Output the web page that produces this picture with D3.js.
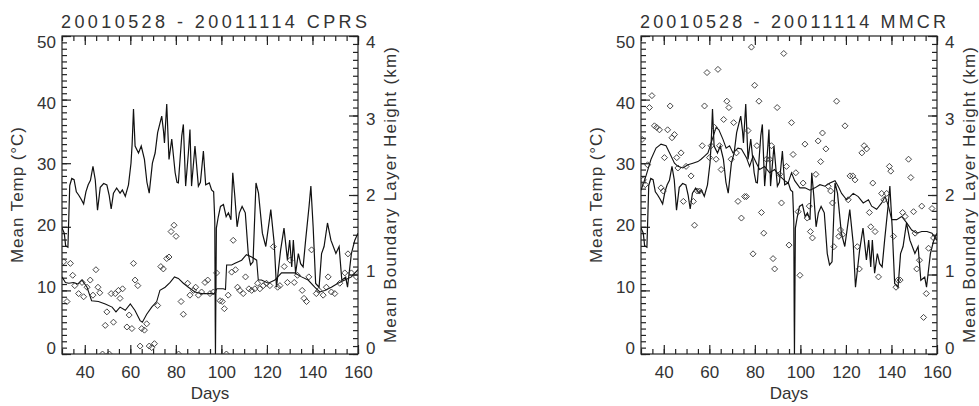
<!DOCTYPE html>
<html>
<head>
<meta charset="utf-8">
<script src="https://cdn.jsdelivr.net/npm/d3@7"></script>
<style>
body { margin: 0; background: #fff; }
text { font-family: "Liberation Sans", Arial, sans-serif; fill: #333; }
</style>
</head>
<body>
<div id="chart"></div>
<script>
// mean temperature (same series on both panels), day of year vs degC
const tempDays = [30.0, 31.0, 31.6, 32.6, 33.4, 34.3, 35.3, 36.3, 37.3, 38.3, 39.5, 40.5, 41.5, 42.5, 43.6, 44.6, 45.6, 46.8, 48.3, 49.7,
    50.7, 51.6, 52.6, 54.0, 55.5, 56.5, 57.8, 59.2, 60.3, 60.8, 61.4, 62.1, 63.6, 64.8, 66.2, 67.3, 68.3, 69.7, 70.9, 72.0,
    73.8, 74.6, 75.0, 76.0, 77.0, 78.2, 79.7, 80.5, 81.1, 82.6, 83.3, 84.3, 85.5, 86.2, 86.9, 88.4, 89.9, 90.8, 92.1, 93.1,
    94.7, 95.7, 96.6, 97.1, 97.3, 97.4, 97.8, 98.6, 99.6, 100.9, 102.1, 103.1, 104.2, 105.0, 105.9, 106.9, 107.9, 109.1, 110.5, 111.8,
    112.8, 113.9, 115.2, 116.3, 118.0, 119.5, 121.7, 123.2, 124.2, 126.0, 127.5, 129.0, 130.0, 130.9, 131.6, 132.6, 133.8, 134.8, 135.9, 137.0,
    138.5, 139.3, 140.3, 141.4, 142.9, 144.0, 145.1, 146.6, 148.1, 150.3, 151.7, 152.9, 154.6, 155.4, 157.1, 158.6, 160.0]
const tempVals = [19.8, 19.0, 17.0, 16.8, 26.5, 27.6, 27.4, 25.5, 25.0, 24.4, 23.6, 25.5, 26.6, 27.3, 29.5, 27.4, 22.6, 26.2, 26.8, 26.6,
    25.0, 22.8, 25.3, 26.1, 25.3, 25.8, 24.8, 26.6, 30.0, 33.0, 38.5, 32.7, 31.6, 32.7, 30.6, 27.0, 25.3, 30.0, 31.6, 34.8,
    37.4, 35.0, 33.2, 39.3, 30.6, 33.8, 28.5, 27.0, 26.9, 34.3, 36.1, 26.4, 31.6, 35.3, 26.4, 32.7, 26.4, 27.0, 31.9, 26.6,
    26.9, 25.8, 25.5, 21.0, 5.0, 0.0, 19.8, 21.5, 23.2, 23.5, 21.6, 22.2, 21.1, 28.5, 24.8, 20.0, 22.2, 23.2, 22.2, 15.8,
    14.0, 14.5, 26.9, 25.3, 19.0, 16.9, 22.7, 17.4, 10.5, 16.3, 19.8, 14.8, 17.9, 13.7, 17.9, 12.7, 15.8, 14.2, 13.7, 17.9,
    23.2, 26.4, 20.0, 11.1, 10.5, 15.8, 16.9, 20.6, 17.9, 15.8, 16.9, 11.6, 12.1, 10.5, 15.8, 17.9, 19.0]

// CPRS boundary layer height (km): running mean and daily values
const cprsSmoothDays = [30, 31.5, 33, 35, 37, 38.8, 41, 43, 46, 49, 52, 53.7, 55.5, 57.8, 60, 62, 64.3, 65.3, 67.2, 69.4,
    71.6, 73, 75.3, 77.5, 79.4, 81.1, 83.3, 85.5, 88.4, 91.3, 94.3, 96.9, 98, 100.8, 101.8, 102.3, 104.5, 106, 108.9, 111,
    113.3, 115.5, 116.2, 117.6, 120.6, 123.5, 126.4, 129.3, 132.2, 135.2, 138.1, 141, 143.2, 145.4, 148.3, 151.2, 154.2, 157.1, 160]
const cprsSmoothKm = [0.97, 0.90, 0.89, 0.90, 0.88, 0.93, 0.84, 0.67, 0.66, 0.63, 0.59, 0.53, 0.59, 0.55, 0.63, 0.55, 0.42, 0.40, 0.50, 0.59,
    0.66, 0.80, 0.84, 0.90, 0.97, 0.95, 0.89, 0.84, 0.78, 0.76, 0.76, 0.76, 0.82, 0.82, 0.81, 1.12, 1.12, 1.14, 1.18, 1.25,
    1.22, 1.18, 0.93, 0.93, 0.89, 0.93, 1.02, 1.02, 1.02, 0.97, 0.93, 0.84, 0.78, 0.80, 0.84, 0.89, 0.93, 0.97, 1.06]
const cprsDays = [30.7, 32.2, 33.7, 34.7, 35.6, 37.3, 38.8, 39.5, 41, 42.4, 43.6, 44.9, 45.8, 46.6, 47.8, 49, 49.7, 50.8, 51.6, 52.6,
    53.4, 54.8, 55.5, 56.6, 58.5, 59.5, 60.7, 61.4, 62.1, 63.3, 64.3, 65, 66.2, 67.2, 68.3, 69.4, 70.6, 72, 73.4, 74.5,
    76, 77, 77.9, 79.2, 80.1, 81.2, 82.3, 83.3, 85.2, 86.2, 87.7, 88.7, 89.9, 91.3, 92.8, 94, 95, 96.5, 97.9, 99.4,
    100.4, 101.3, 102.2, 103, 104.5, 105.2, 106.2, 107.1, 108.1, 109.6, 110.6, 112.1, 113.3, 114.7, 115.9, 116.9, 118.4, 119.8, 121.3, 122.8,
    124.7, 125.7, 127.6, 129, 130.2, 132, 133.4, 135.5, 136.3, 137.4, 138.4, 139.6, 141.7, 142.8, 144.7, 146.1, 146.9, 148.3, 149.8, 152,
    154.2, 155.6, 157.1, 159.3]
const cprsKm = [1.16, 0.66, 1.14, 0.99, 0.86, 0.76, 0.90, 0.72, 0.84, 0.93, 0.74, 1.06, 0.84, 0.77, 0.0, 0.36, 0.53, 0.0, 0.76, 0.40,
    0.76, 0.80, 0.70, 0.82, 0.34, 0.49, 0.32, 1.14, 0.93, 0.86, 0.10, 0.32, 0.30, 0.38, 0.10, 0.08, 0.13, 0.61, 1.10, 1.07,
    1.20, 1.22, 1.54, 1.62, 1.48, 0.0, 0.66, 0.50, 0.89, 0.74, 0.80, 0.84, 0.74, 0.78, 0.90, 0.93, 0.76, 0.78, 1.02, 0.67,
    0.66, 0.57, 0.0, 0.74, 1.03, 1.43, 1.06, 0.84, 0.80, 0.76, 0.97, 0.82, 0.80, 0.82, 0.89, 0.82, 0.86, 0.89, 0.86, 1.35,
    0.84, 0.86, 1.10, 0.90, 1.18, 0.90, 0.99, 0.80, 0.70, 0.66, 0.97, 1.31, 0.76, 0.80, 0.74, 0.84, 0.97, 0.78, 0.76, 0.89,
    1.02, 1.26, 1.02, 0.97]

// MMCR boundary layer height (km): running mean and daily values
const mmcrSmoothDays = [30, 32.2, 34.4, 36.6, 38.8, 41, 43.2, 44.7, 46.2, 48.4, 50.6, 52.8, 55, 56.4, 57.9, 59.4, 61.3, 63, 64.2, 66,
    67.4, 68.9, 70.4, 72.6, 74.1, 76.3, 77.7, 79.2, 80.7, 82.1, 84.3, 86.5, 88.7, 90.9, 93.1, 94.6, 96.1, 97.5, 99.8, 102,
    104.2, 106.4, 108.6, 110.8, 113, 115.2, 116.6, 118.1, 120.3, 121.8, 123.2, 125.4, 127.6, 129.9, 131.3, 133.5, 135.7, 137.2, 138.7, 140.1,
    142.3, 144.5, 146.7, 148.9, 151.1, 153.3, 155.6, 157.8, 160]
const mmcrSmoothKm = [2.06, 2.24, 2.45, 2.59, 2.64, 2.62, 2.49, 2.40, 2.36, 2.34, 2.38, 2.40, 2.42, 2.45, 2.49, 2.53, 2.70, 2.85, 2.82, 2.70,
    2.59, 2.62, 2.53, 2.59, 2.58, 2.47, 2.36, 2.49, 2.40, 2.32, 2.36, 2.28, 2.32, 2.24, 2.18, 2.15, 2.28, 2.18, 2.09, 2.09,
    2.06, 2.09, 2.13, 2.11, 2.15, 2.18, 2.11, 2.02, 1.94, 1.98, 2.02, 1.98, 1.90, 1.94, 1.86, 1.82, 1.90, 1.98, 1.86, 1.69,
    1.69, 1.73, 1.65, 1.56, 1.52, 1.54, 1.54, 1.52, 1.43]
const mmcrDays = [30.5, 31, 31.9, 32.9, 33.7, 34.8, 35.9, 36.9, 38.1, 38.8, 39.8, 40.3, 41.7, 42.8, 43.6, 44.7, 45.7, 46.2, 47.6, 48.6,
    49.8, 52, 53, 53.5, 54.7, 55.7, 56.9, 57.9, 59, 60.1, 60.8, 62.3, 63, 63.8, 64.5, 65.2, 66.3, 67.7, 68.6, 69.6,
    70.7, 71.9, 72.6, 74.1, 75.5, 76.3, 77, 78.5, 79.2, 79.9, 80.9, 81.8, 82.9, 83.9, 85.1, 86.5, 87.3, 88, 88.7, 89.8,
    90.9, 91.7, 92.7, 93.9, 95, 96.1, 96.8, 98, 99, 99.8, 101.2, 102, 103, 103.9, 104.4, 105.3, 106.8, 107.8, 108.9, 109.7,
    111.2, 112.2, 113.3, 114.1, 114.7, 115.9, 116.9, 117.6, 118.5, 119.6, 121, 121.8, 123, 124, 125, 125.9, 127, 128, 129.1, 130.3,
    130.9, 131.8, 132.8, 134.3, 135.7, 136.7, 137.9, 139.1, 139.7, 140.9, 142, 142.8, 143.8, 144.9, 146, 147.5, 148.5, 149.7, 150.4, 151.1,
    152.3, 153.3, 154.1, 155.3, 156.3, 157.8, 158.5]
const mmcrKm = [2.70, 2.19, 2.13, 2.38, 3.10, 3.25, 2.87, 2.85, 2.82, 2.09, 2.05, 2.47, 2.82, 3.12, 2.72, 2.76, 2.47, 2.34, 2.53, 1.92,
    2.36, 2.24, 1.92, 1.62, 2.05, 2.05, 2.62, 3.12, 3.54, 2.47, 2.62, 2.85, 2.45, 3.58, 2.62, 2.32, 2.95, 3.18, 3.10, 2.45,
    2.91, 2.53, 1.92, 1.71, 1.98, 1.98, 2.81, 3.86, 1.26, 3.38, 2.62, 3.18, 1.78, 1.52, 2.45, 2.45, 2.62, 1.20, 1.07, 3.10,
    2.26, 1.90, 3.78, 2.36, 1.37, 2.91, 2.51, 2.28, 1.79, 0.99, 2.15, 2.64, 1.71, 1.86, 1.54, 1.46, 2.26, 2.68, 2.42, 2.78,
    2.58, 2.11, 2.05, 1.90, 1.35, 3.18, 1.48, 1.56, 1.50, 2.87, 1.94, 2.24, 2.24, 2.19, 1.35, 1.07, 2.53, 2.62, 2.58, 1.78,
    1.60, 2.15, 1.54, 0.97, 2.02, 1.94, 2.02, 2.36, 2.30, 1.48, 0.84, 0.93, 0.93, 1.78, 1.73, 2.45, 2.22, 1.79, 1.52, 1.07,
    1.18, 1.86, 0.46, 0.76, 1.33, 1.83, 1.46]

const xTicks = [40, 60, 80, 100, 120, 140, 160]
const tempTicks = [0, 10, 20, 30, 40, 50]
const kmTicks = [0, 1, 2, 3, 4]

const width = 979
const height = 406

const svg = d3.select("#chart")
    .append("svg")
    .attr("width", width)
    .attr("height", height)

function drawPanel(left, id, title, smoothDays, smoothKm, dotDays, dotKm) {
    const top = 36, bottom = 354, right = left + 296
    const mid = (left + right) / 2
    const midY = (top + bottom) / 2
    const x = d3.scaleLinear().domain([30, 160]).range([left, right])
    const yT = d3.scaleLinear().domain([0, 50]).range([bottom, top])
    const yK = d3.scaleLinear().domain([0, 4]).range([bottom, top])

    const g = svg.append("g")

    svg.append("clipPath").attr("id", "clip" + id)
        .append("rect")
        .attr("x", left).attr("y", top - 1)
        .attr("width", right - left).attr("height", bottom - top + 1)

    // ticks: minor first, then major with labels
    const minorX = d3.range(30, 161, 5)
    const minorT = d3.range(0, 51, 1)
    const minorK = d3.range(0, 41, 1).map(d => d / 10)

    function addAxis(axis, tx, ty) {
        const a = g.append("g")
            .attr("transform", `translate(${tx},${ty})`)
            .call(axis)
        a.select(".domain").remove()
        a.selectAll("line")
            .attr("stroke", "#222")
            .attr("stroke-width", 1.2)
        a.selectAll("text").style("font-size", "17px").attr("fill", "#333")
        return a
    }

    addAxis(d3.axisBottom(x).tickValues(minorX).tickSize(-5).tickFormat(""), 0, bottom)
    addAxis(d3.axisBottom(x).tickValues(xTicks).tickSize(-9).tickPadding(12), 0, bottom)
    addAxis(d3.axisTop(x).tickValues(minorX).tickSize(-5).tickFormat(""), 0, top)
    addAxis(d3.axisTop(x).tickValues(xTicks).tickSize(-9).tickFormat(""), 0, top)
    addAxis(d3.axisLeft(yT).tickValues(minorT).tickSize(-5).tickFormat(""), left, 0)
    // IDL pulls the end labels slightly towards the middle of the axis
    addAxis(d3.axisLeft(yT).tickValues(tempTicks).tickSize(-9).tickPadding(6), left, 0)
        .selectAll("text").attr("dy", "0.32em")
        .attr("transform", d => `translate(0,${(midY - yT(d)) * 0.04})`)
    addAxis(d3.axisRight(yK).tickValues(minorK).tickSize(-5).tickFormat(""), right, 0)
    addAxis(d3.axisRight(yK).tickValues(kmTicks).tickSize(-9).tickPadding(8).tickFormat(d3.format("d")), right, 0)
        .selectAll("text").attr("dy", "0.32em")
        .attr("transform", d => `translate(0,${(midY - yK(d)) * 0.04})`)

    // frame
    g.append("rect")
        .attr("x", left).attr("y", top)
        .attr("width", right - left).attr("height", bottom - top)
        .attr("fill", "none")
        .attr("stroke", "#222")
        .attr("stroke-width", 1.2)

    const plot = g.append("g").attr("clip-path", `url(#clip${id})`)

    const tempLine = d3.line()
        .x((d, i) => x(tempDays[i]))
        .y(d => yT(d))
    plot.append("path")
        .attr("d", tempLine(tempVals))
        .attr("fill", "none")
        .attr("stroke", "#111")
        .attr("stroke-width", 1.2)

    const smoothLine = d3.line()
        .x((d, i) => x(smoothDays[i]))
        .y(d => yK(d))
    plot.append("path")
        .attr("d", smoothLine(smoothKm))
        .attr("fill", "none")
        .attr("stroke", "#111")
        .attr("stroke-width", 1.1)

    plot.append("g")
        .selectAll("path")
        .data(dotKm)
        .enter()
        .append("path")
        .attr("transform", (d, i) => `translate(${x(dotDays[i])},${yK(d)})`)
        .attr("d", "M0,-3L3,0L0,3L-3,0Z")
        .attr("fill", "none")
        .attr("stroke", "#333")
        .attr("stroke-width", 0.9)

    // labels
    g.append("text")
        .attr("x", mid + 4).attr("y", 28)
        .attr("text-anchor", "middle")
        .attr("textLength", 306)
        .attr("lengthAdjust", "spacing")
        .style("font-size", "18px")
        .text(title)

    g.append("text")
        .attr("x", mid).attr("y", 399)
        .attr("text-anchor", "middle")
        .style("font-size", "17px")
        .text("Days")

    g.append("text")
        .attr("transform", `translate(${left - 39},${midY}) rotate(-90)`)
        .attr("text-anchor", "middle")
        .attr("textLength", 136)
        .style("font-size", "17px")
        .text("Mean Temp (°C)")

    g.append("text")
        .attr("transform", `translate(${right + 38},${midY}) rotate(-90)`)
        .attr("text-anchor", "middle")
        .attr("textLength", 296)
        .attr("lengthAdjust", "spacing")
        .style("font-size", "17px")
        .text("Mean Boundary Layer Height (km)")
}

drawPanel(62, "a", "20010528 - 20011114 CPRS", cprsSmoothDays, cprsSmoothKm, cprsDays, cprsKm)
drawPanel(641, "b", "20010528 - 20011114 MMCR", mmcrSmoothDays, mmcrSmoothKm, mmcrDays, mmcrKm)
</script>
</body>
</html>
